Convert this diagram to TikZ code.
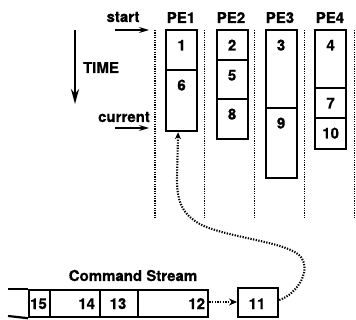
\documentclass[tikz,border=0pt]{standalone}
\usepackage{fontspec}
\setmainfont{TeX Gyre Heros}[BoldFeatures={FakeBold=0.6}]
\usetikzlibrary{arrows.meta}
\begin{document}
\begin{tikzpicture}[x=1pt,y=-1pt,
  font=\bfseries\fontsize{15}{17}\selectfont,
  cell/.style={draw,line width=2.2pt,anchor=north west,inner sep=0pt,minimum width=31pt},
  scell/.style={draw,line width=2.2pt,anchor=north west,inner sep=0pt,minimum height=27pt},
  lbl/.style={anchor=base,inner sep=0pt},
  sep/.style={line width=1.7pt,dash pattern=on 1.2pt off 1.2pt},
  dotlink/.style={line width=2.1pt,dash pattern=on 1.3pt off 1.4pt},
  tick/.style={line width=1.1pt,-{Stealth[length=10pt,width=6pt]}}]
\useasboundingbox (0,0) rectangle (356,320);

% column headings and time markers
\node[lbl] (h1) at (181,23) {PE1};
\node[lbl] (h2) at (231,23) {PE2};
\node[lbl] (h3) at (280,23) {PE3};
\node[lbl] (h4) at (330,23) {PE4};
\node[lbl] (start) at (123,22) {start};
\node[lbl] (cur) at (124,122) {current};
\node[lbl] (time) at (101,73) {TIME};
\coordinate (s0) at (115,30);  \coordinate (s1) at (149,30);
\coordinate (c0) at (115,128); \coordinate (c1) at (149,128);
\coordinate (t0) at (75,30);   \coordinate (t1) at (75,104);
\draw[tick] (s0) -- (s1);
\draw[tick] (c0) -- (c1);
\draw[line width=2.2pt,-{Stealth[length=15pt,width=8pt]}] (t0) -- (t1);

% dotted lane separators
\foreach \x in {155,204.5,254.5,304.5,354.5}
  \draw[sep] (\x,30) -- (\x,219);

% PE1
\node[cell,minimum height=40pt] (p1a) at (165,29) {};
\node[cell,minimum height=61pt] (p1b) at (165,69) {};
% PE2
\node[cell,minimum height=30pt] (p2a) at (215.5,29) {};
\node[cell,minimum height=39pt] (p2b) at (215.5,59) {};
\node[cell,minimum height=40pt] (p2c) at (215.5,98) {};
% PE3
\node[cell,minimum height=78pt] (p3a) at (264.5,29) {};
\node[cell,minimum height=70pt] (p3b) at (264.5,107) {};
% PE4
\node[cell,minimum height=58pt] (p4a) at (314,29) {};
\node[cell,minimum height=30pt] (p4b) at (314,87) {};
\node[cell,minimum height=31pt] (p4c) at (314,117) {};

\foreach \c/\t in {p1a/1,p1b/6,p2a/2,p2b/5,p2c/8,p3a/3,p3b/9,p4a/4,p4b/7,p4c/10}
  \node[lbl] at ([yshift=-21.5pt]\c.north) {\t};

% command stream
\node[lbl] (cs) at (133,281) {Command Stream};
\node[scell,minimum width=21pt] (q15) at (28,289) {};
\node[scell,minimum width=50pt] (q14) at (49,289) {};
\node[scell,minimum width=38pt] (q13) at (99,289) {};
\node[scell,minimum width=70pt] (q12) at (137,289) {};
\coordinate (qt) at (8,289); \coordinate (qb) at (8,316);
\draw[line width=2.2pt] (q15.north west) -- (qt);
\draw[line width=2.2pt] (q15.south west) -- (qb);
\node[scell,minimum width=40pt,minimum height=29pt] (q11) at (237,287) {};

\node[lbl] at (38.5,309) {15};
\node[lbl,anchor=base east] at ([xshift=-6pt]q14.east |- 0,309) {14};
\node[lbl] at (118,309) {13};
\node[lbl,anchor=base east] at ([xshift=-4pt]q12.east |- 0,309) {12};
\node[lbl] at (257,309) {11};

% dispatch links
\draw[dotlink,-{Stealth[length=8pt,width=7pt]}] (q12.east |- 0,302) -- (q11.west |- 0,302);
\draw[dotlink,-{Stealth[length=7pt,width=6pt]}]
  (q11.east |- 0,300) .. controls (298,294) and (313,268) .. (299,255)
  .. controls (283,241) and (222,237) .. (198,223)
  .. controls (180,212) and (177,198) .. (177,178)
  -- ([xshift=-3.5pt]p1b.south);
\end{tikzpicture}
\end{document}
